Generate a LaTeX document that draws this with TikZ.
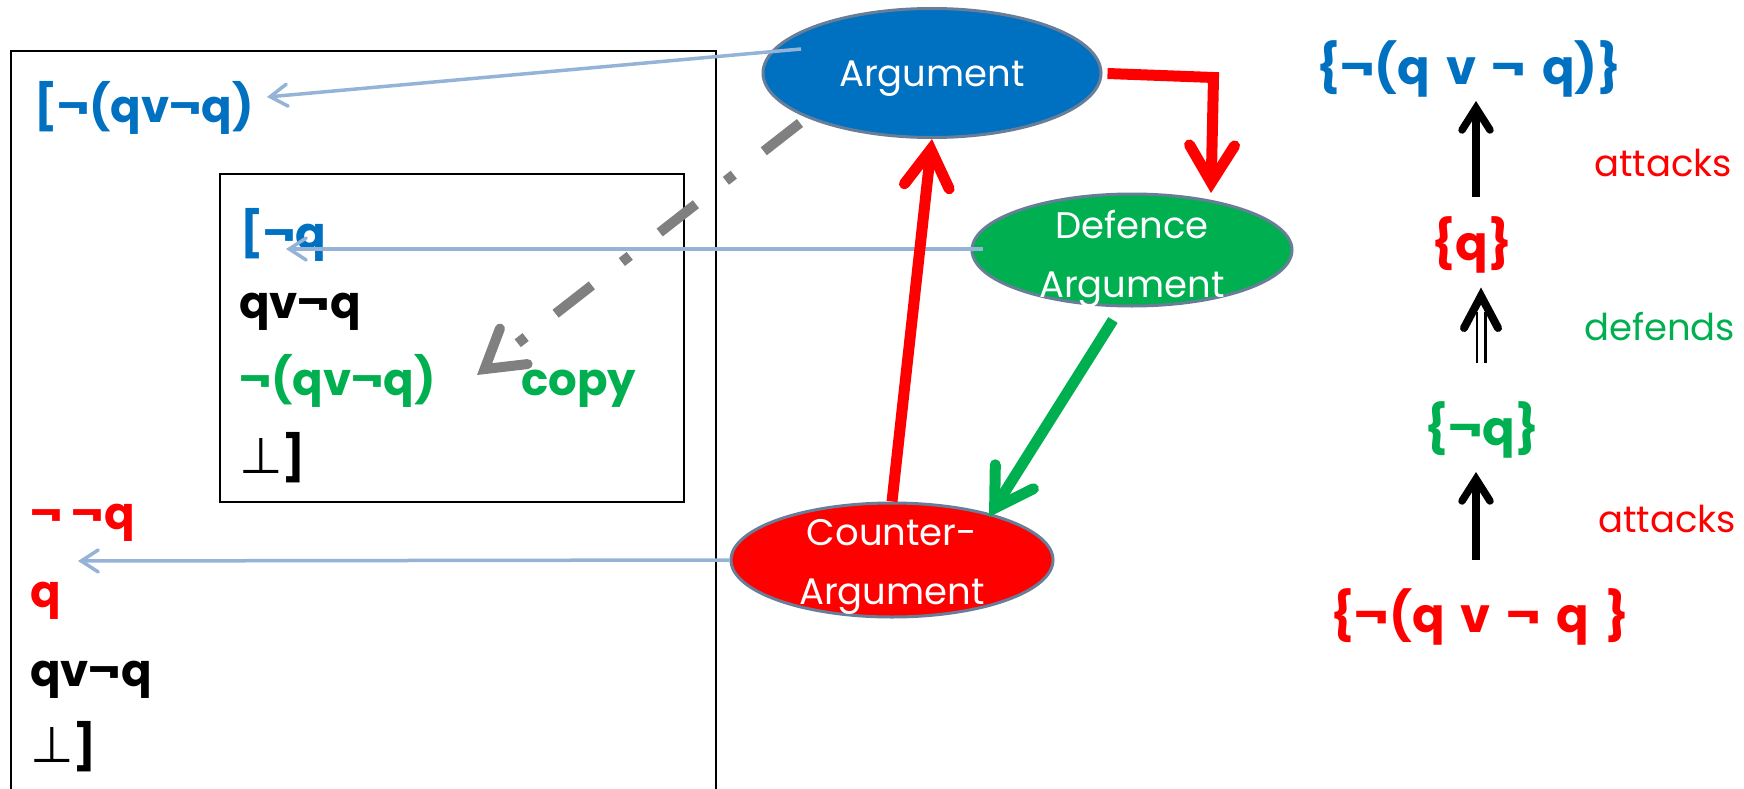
\documentclass[tikz,border=0pt]{standalone}
\usepackage{fontspec}
\setmainfont{Poppins}
\newfontfamily\djv{DejaVu Sans}
\usetikzlibrary{arrows.meta,shapes.geometric,calc}
\definecolor{argblue}{HTML}{0070C0}
\definecolor{defgreen}{HTML}{00B050}
\definecolor{ctrred}{HTML}{FF0000}
\definecolor{rimgray}{HTML}{687E98}
\definecolor{linkblue}{HTML}{95B3D7}
\definecolor{copygray}{HTML}{808080}
\newcommand{\falsum}{{\djv\mdseries\fontsize{50}{50}\selectfont ⊥}}
\newcommand{\widespaces}{\spaceskip=0.33em\relax}
\tikzset{
  formula/.style={inner sep=0pt, anchor=base west, font=\fontsize{45}{45}\selectfont\bfseries},
  setlabel/.style={inner sep=0pt, anchor=base,
    font={\fontsize{48}{48}\selectfont\bfseries\widespaces}},
  relword/.style={inner sep=0pt, anchor=base west, font=\fontsize{37}{37}\selectfont},
  bubble/.style={ellipse, draw=rimgray, line width=3pt, inner sep=0pt},
  bubbletext/.style={text=white, align=center, inner sep=0pt, font=\fontsize{37}{59}\selectfont},
  link/.style={draw=linkblue, line width=3.5pt,
    -{Straight Barb[length=17pt, width=22pt, line cap=round, line join=miter]}},
  bigarrow/.style={line width=11pt, line cap=butt,
    -{Straight Barb[length=37pt, width=45pt, line cap=round, line join=miter]}},
  copyarrow/.style={draw=copygray, line width=10pt, line cap=butt,
    dash pattern=on 46pt off 38pt on 10pt off 38pt,
    -{Straight Barb[length=37pt, width=45pt, line cap=round, line join=miter]}},
  relarrow/.style={draw=black, line width=7.5pt,
    -{Straight Barb[length=22pt, width=28pt, line cap=round, line join=miter]}},
}
\begin{document}
\begin{tikzpicture}[x=1pt, y=-1pt]
\useasboundingbox (0,0) rectangle (1744,789);
\clip (0,0) rectangle (1744,789);

% derivation boxes
\draw[line width=2pt] (11,51) rectangle (716,820);
\draw[line width=2pt] (220,174) rectangle (684,502);

% derivation lines
\node[formula, text=argblue]  (t1) at (34,122)  {[¬(qv¬q)};
\node[formula, text=argblue]  (t2) at (240,249) {[¬q};
\node[formula]                (t3) at (239,318) {qv¬q};
\node[formula, text=defgreen] (t4) at (239,395) {¬(qv¬q)};
\node[formula, text=defgreen] (cp) at (521,395) {copy};
\node[formula]                (t5) at (239,473) {\falsum]};
\node[formula, text=ctrred]   (t6) at (30,529)  {¬ ¬q};
\node[formula, text=ctrred]   (t7) at (30,607)  {q};
\node[formula]                (t8) at (30,686)  {qv¬q};
\node[formula]                (t9) at (30,762)  {\falsum]};

% argument bubbles
\node[bubble, fill=argblue,  minimum width=338pt, minimum height=129pt] (arg) at (932,73)  {};
\node[bubble, fill=defgreen, minimum width=320pt, minimum height=112pt] (def) at (1132,250) {};
\node[bubble, fill=ctrred,   minimum width=322pt, minimum height=114pt] (ctr) at (892,560) {};
\node[bubbletext] (argtxt) at ($(arg)+(0,6)$) {Argument};
\node[bubbletext] (deftxt) at ($(def)+(0,9)$)  {Defence\\Argument};
\node[bubbletext] (ctrtxt) at ($(ctr)+(0,7)$)  {Counter-\\Argument};

% links from the bubbles to the derivation
\draw[link] ($(arg)+(-131,-24)$) -- ($(t1.base west)+(233,-25)$);
\draw[link] ($(def)+(-149,-1)$)  -- ($(t2.base west)+(46,0)$);
\draw[link] (ctr.west)            -- ($(t6.base west)+(48,32)$);

% relations between the bubbles
\draw[bigarrow, draw=ctrred, line join=miter]
  ($(arg.east)+(5,0.5)$) -- ($(arg.east)+(111,4.5)$) -- ($(def)+(79,-57)$);
\draw[bigarrow, draw=ctrred] (ctr.north) -- (arg.south);
\draw[bigarrow, draw=defgreen] ($(def)+(-19,70)$) -- ($(ctr)+(97,-43)$);
\draw[copyarrow] ($(arg)+(-132,50)$) -- ($(cp.base west)+(-44,-20)$);

% argument sets
\node[setlabel, text=argblue]  (r1) at (1469,85)  {\{¬(q v ¬ q)\}};
\node[setlabel, text=ctrred]   (r2) at (1472,260) {\{q\}};
\node[setlabel, text=defgreen] (r3) at (1482,445) {\{¬q\}};
\node[setlabel, text=ctrred]   (r4) at (1480,632) {\{¬(q v ¬ q \}};
\node[relword, text=ctrred]   (w1) at (1594,176) {attacks};
\node[relword, text=defgreen] (w2) at (1584,340) {defends};
\node[relword, text=ctrred]   (w3) at (1598,532) {attacks};

\draw[relarrow] ($(r2.base)+(4,-63)$) -- ($(r1.base)+(7,16)$);
\draw[relarrow] ($(r4.base)+(-4,-72)$) -- ($(r3.base)+(-6,27)$);
% defends: double shaft with an open head
\coordinate (dtip) at ($(r2.base)+(9,36)$);
\draw[double, double distance=6pt, line width=2.5pt] ($(r3.base)+(-1,-82)$) -- ($(dtip)+(0,16)$);
\draw[line width=8pt, line cap=round, line join=miter]
  ($(dtip)+(-17,32)$) -- (dtip) -- ($(dtip)+(17,32)$);
\end{tikzpicture}
\end{document}
